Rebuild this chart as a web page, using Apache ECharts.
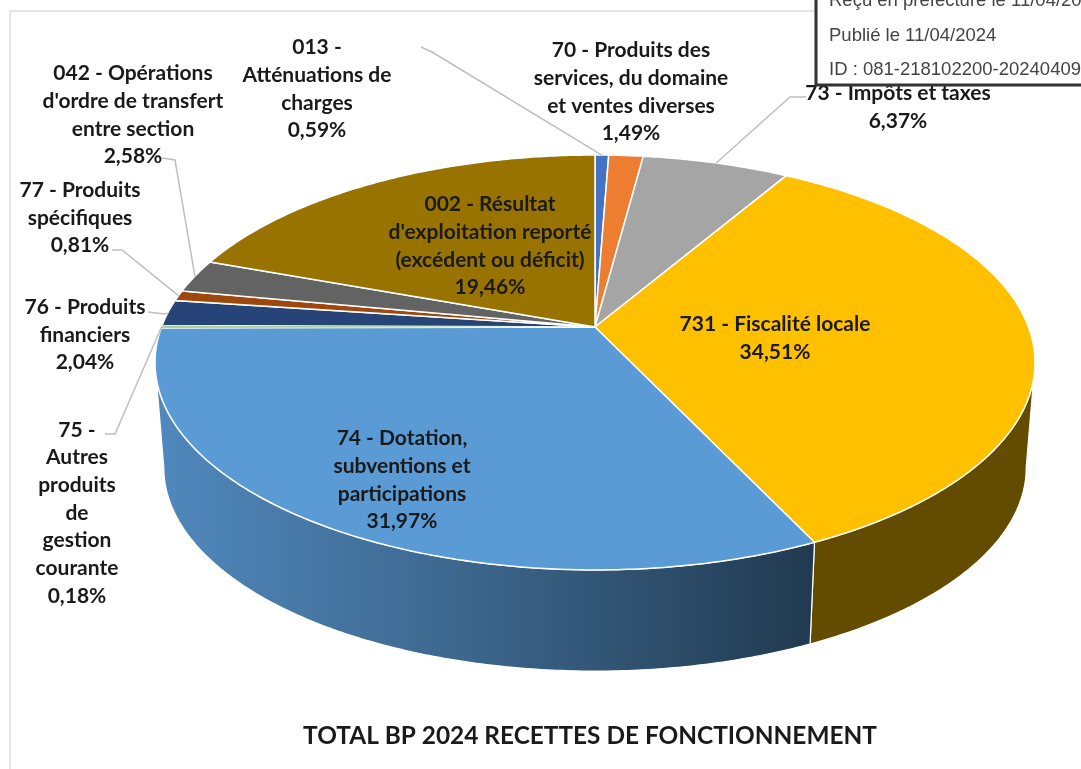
<!DOCTYPE html>
<html>
<head>
<meta charset="utf-8">
<style>
  html, body { margin: 0; padding: 0; background: #fff; }
  #chart { width: 1081px; height: 769px; }
</style>
<script src="https://cdn.jsdelivr.net/npm/echarts@6/dist/echarts.min.js"></script>
</head>
<body>
<div id="chart"></div>
<script>
// slices, clockwise from 12 o'clock
var categories = [
  '013 -\nAtténuations de\ncharges',
  '70 - Produits des\nservices, du domaine\net ventes diverses',
  '73 - Impôts et taxes',
  '731 - Fiscalité locale',
  '74 - Dotation,\nsubventions et\nparticipations',
  '75 -\nAutres\nproduits\nde\ngestion\ncourante',
  '76 - Produits\nfinanciers',
  '77 - Produits\nspécifiques',
  "042 - Opérations\nd'ordre de transfert\nentre section",
  "002 - Résultat\nd'exploitation reporté\n(excédent ou déficit)"
];
var values = [0.59, 1.49, 6.37, 34.51, 31.97, 0.18, 2.04, 0.81, 2.58, 19.46];
var colors = ['#4472C4', '#ED7D31', '#A5A5A5', '#FFC000', '#5B9BD5', '#A9D18E', '#264478', '#9E480E', '#636363', '#997300'];
var titleText = 'TOTAL BP 2024 RECETTES DE FONCTIONNEMENT';
var stampLines = ['Reçu en préfecture le 11/04/2024', 'Publié le 11/04/2024', 'ID : 081-218102200-20240409'];

// label centres [x, y] in page px, and the knee of each leader line (null = none)
var labelPos = [[317, 89], [631, 92], [898, 107], [775, 338], [402, 480], [77, 513], [85, 335], [80, 218], [133, 115], [490, 246]];
var leaderFrom = [[421, 47], null, [806, 97], null, null, [105, 434], [148, 312], [112, 250], [162, 158], null];
var leaderKnee = [[432, 52], null, [790, 97], null, null, [115, 434], [165, 314], [122, 250], [175, 160], null];

// perspective disc: pie centre lands at (cx, cy), nearer edge is larger
var cx = 595, cy = 327, R = 433.5, B = 201.4, K = 0.171;
var bottomScale = 0.98, bottomCy = 433;
var total = values.reduce(function (a, b) { return a + b; }, 0);

function startAngle(i) {
  var s = 0;
  for (var j = 0; j < i; j++) s += values[j];
  return s / total * 2 * Math.PI;
}
function project(t, scale, yc) {
  var u = Math.sin(t), v = -Math.cos(t), w = 1 - K * v;
  return [cx + scale * R * u / w, yc + scale * B * v / w];
}
function arc(a, b, scale, yc) {
  var pts = [], n = Math.max(2, Math.ceil((b - a) / 0.01));
  for (var i = 0; i <= n; i++) pts.push(project(a + (b - a) * i / n, scale, yc));
  return pts;
}
function pct(v) { return v.toFixed(2).replace('.', ',') + '%'; }

var wallFill = {
  3: '#634B00',
  4: { type: 'linear', global: true, x: 160, y: 0, x2: 812, y2: 0, colorStops: [
    { offset: 0, color: '#5088BD' }, { offset: 0.5, color: '#3B6489' }, { offset: 1, color: '#213A50' }
  ] }
};
var wallFrom = Math.PI / 2 + Math.asin(K), wallTo = 3 * Math.PI / 2 - Math.asin(K);

function renderWall(params, api) {
  var i = api.value(0);
  var a = Math.max(startAngle(i), wallFrom), b = Math.min(startAngle(i + 1), wallTo);
  if (b <= a || !wallFill[i]) return null;
  var pts = arc(a, b, 1, cy).concat(arc(a, b, bottomScale, bottomCy).reverse());
  return { type: 'polygon', shape: { points: pts }, style: { fill: wallFill[i], stroke: '#fff', lineWidth: 1.2 } };
}
function renderTop(params, api) {
  var i = api.value(0), tiny = values[i] < 0.5;
  var pts = [[cx, cy]].concat(arc(startAngle(i), startAngle(i + 1), 1, cy));
  // the thinnest slice would vanish under its neighbours' white outline
  return { type: 'polygon', z2: tiny ? 1 : 0, shape: { points: pts },
    style: { fill: colors[i], stroke: tiny ? null : '#fff', lineWidth: 1.5 } };
}
function renderLabel(params, api) {
  var i = api.value(0), children = [];
  if (leaderKnee[i]) {
    var end = project((startAngle(i) + startAngle(i + 1)) / 2, 1, cy);
    children.push({ type: 'polyline', shape: { points: [leaderFrom[i], leaderKnee[i], end] },
      style: { fill: 'none', stroke: '#BFBFBF', lineWidth: 1.5 } });
  }
  children.push({ type: 'text', style: {
    text: categories[i] + '\n' + pct(values[i]),
    x: labelPos[i][0], y: labelPos[i][1], align: 'center', verticalAlign: 'middle',
    font: 'bold 21px Lato', lineHeight: 27.7, fill: '#1a1a1a'
  } });
  return { type: 'group', children: children };
}

var indexData = values.map(function (v, i) { return [i, v]; });
function customSeries(fn, z) {
  return { type: 'custom', coordinateSystem: 'none', renderItem: fn, data: indexData, z: z, silent: true, animation: false };
}

var chart = echarts.init(document.getElementById('chart'));
chart.setOption({
  animation: false,
  backgroundColor: '#fff',
  series: [customSeries(renderWall, 2), customSeries(renderTop, 3), customSeries(renderLabel, 4)],
  graphic: [
    { type: 'polyline', z: 1, shape: { points: [[10, 769], [10, 11], [1081, 11]] }, style: { fill: 'none', stroke: '#DDDDDD', lineWidth: 1.5 } },
    { type: 'text', z: 5, style: { text: titleText, x: 590, y: 736, align: 'center', verticalAlign: 'middle', font: 'bold 24.4px Lato', fill: '#1a1a1a' } },
    { type: 'rect', z: 10, shape: { x: 816, y: -10, width: 300, height: 95 }, style: { fill: '#fff', stroke: '#333', lineWidth: 3 } },
    { type: 'text', z: 11, style: { text: stampLines[0], x: 829, y: 1, verticalAlign: 'middle', font: '18.5px "Liberation Sans"', fill: '#444' } },
    { type: 'text', z: 11, style: { text: stampLines[1], x: 829, y: 36, verticalAlign: 'middle', font: '18.5px "Liberation Sans"', fill: '#444' } },
    { type: 'text', z: 11, style: { text: stampLines[2], x: 829, y: 70, verticalAlign: 'middle', font: '18.5px "Liberation Sans"', fill: '#444' } }
  ]
});
</script>
</body>
</html>
